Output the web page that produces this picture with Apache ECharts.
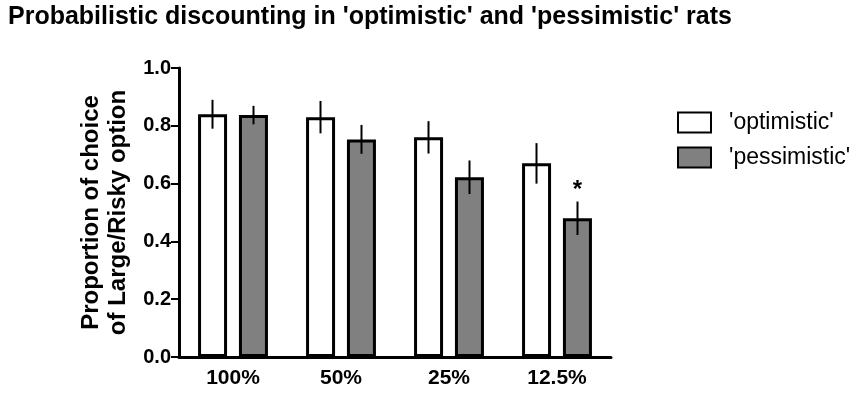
<!DOCTYPE html>
<html>
<head>
<meta charset="utf-8">
<script src="https://cdn.jsdelivr.net/npm/echarts@6/dist/echarts.min.js"></script>
<style>
html, body { margin: 0; padding: 0; background: #fff; }
#main { width: 850px; height: 394px; }
</style>
</head>
<body>
<div id="main"></div>
<script>
const categories = ['100%', '50%', '25%', '12.5%'];
const optimistic = [0.84, 0.83, 0.76, 0.67];
const pessimistic = [0.837, 0.753, 0.622, 0.48];
const optimisticSem = [0.05, 0.056, 0.056, 0.07];
const pessimisticSem = [0.032, 0.05, 0.058, 0.058];
const pessimisticMark = ['', '', '', '*'];
const yTicks = [0, 0.2, 0.4, 0.6, 0.8, 1.0];

const chart = echarts.init(document.getElementById('main'));

// offset of each bar centre from the category centre (half bar + half gap)
const barOffset = 20.5;

function errorSeries(values, sems, side, marks) {
    return {
        type: 'custom',
        z: 5,
        data: values.map((v, i) => [i, v, sems[i]]),
        renderItem(params, api) {
            const i = api.value(0);
            const v = api.value(1);
            const s = api.value(2);
            const top = api.coord([i, v + s]);
            const bot = api.coord([i, v - s]);
            const x = top[0] + side * barOffset;
            const children = [{
                type: 'line',
                shape: { x1: x, y1: top[1], x2: x, y2: bot[1] },
                style: { stroke: '#000', lineWidth: 2 }
            }];
            const mark = marks ? marks[params.dataIndex] : '';
            if (mark) {
                children.push({
                    type: 'text',
                    style: {
                        text: mark, x: x, y: top[1] + 1,
                        align: 'center', verticalAlign: 'bottom',
                        font: 'bold 24px "Liberation Sans", Arial', fill: '#000'
                    }
                });
            }
            return { type: 'group', children: children };
        }
    };
}

const option = {
    animation: false,
    title: {
        text: "Probabilistic discounting in 'optimistic' and 'pessimistic' rats",
        left: 3,
        top: 0,
        textStyle: {
            fontFamily: '"Liberation Sans", Arial',
            fontWeight: 'bold',
            fontSize: 25,
            color: '#000'
        }
    },
    legend: {
        data: ["'optimistic'", "'pessimistic'"],
        orient: 'vertical',
        left: 672,
        top: 106,
        icon: 'rect',
        itemWidth: 33,
        itemHeight: 20,
        itemGap: 12,
        textStyle: { fontFamily: '"Liberation Sans", Arial', fontSize: 23, color: '#000', padding: [0, 0, 0, 13] }
    },
    grid: { left: 179, right: 239, top: 68, bottom: 37 },
    xAxis: {
        type: 'category',
        data: categories,
        axisLine: { lineStyle: { color: '#000', width: 3 } },
        axisTick: { alignWithLabel: true, length: 8, lineStyle: { color: '#000', width: 2 } },
        axisLabel: {
            color: '#000', fontWeight: 'bold', fontSize: 21, margin: 11,
            fontFamily: '"Liberation Sans", Arial'
        }
    },
    yAxis: {
        type: 'value',
        min: 0,
        max: 1,
        interval: 0.2,
        name: 'Proportion of choice\nof Large/Risky option',
        nameLocation: 'middle',
        nameRotate: 90,
        nameGap: 41,
        nameTextStyle: {
            color: '#000', fontWeight: 'bold', fontSize: 24, lineHeight: 27,
            fontFamily: '"Liberation Sans", Arial'
        },
        splitLine: { show: false },
        axisLine: { show: true, lineStyle: { color: '#000', width: 3 } },
        axisTick: { show: true, length: 8, lineStyle: { color: '#000', width: 2 } },
        axisLabel: {
            color: '#000', fontWeight: 'bold', fontSize: 20, margin: 8,
            fontFamily: '"Liberation Sans", Arial',
            formatter: v => (yTicks.indexOf(v) >= 0 ? v.toFixed(1) : '')
        }
    },
    series: [
        {
            name: "'optimistic'",
            type: 'bar',
            data: optimistic,
            barWidth: 29,
            barGap: '41%',
            itemStyle: { color: '#fff', borderColor: '#000', borderWidth: 3 }
        },
        {
            name: "'pessimistic'",
            type: 'bar',
            data: pessimistic,
            barWidth: 29,
            itemStyle: { color: '#808080', borderColor: '#000', borderWidth: 3 }
        },
        errorSeries(optimistic, optimisticSem, -1),
        errorSeries(pessimistic, pessimisticSem, 1, pessimisticMark)
    ]
};

chart.setOption(option);

window.addEventListener('resize', function () {
    chart.resize();
});
</script>
</body>
</html>
